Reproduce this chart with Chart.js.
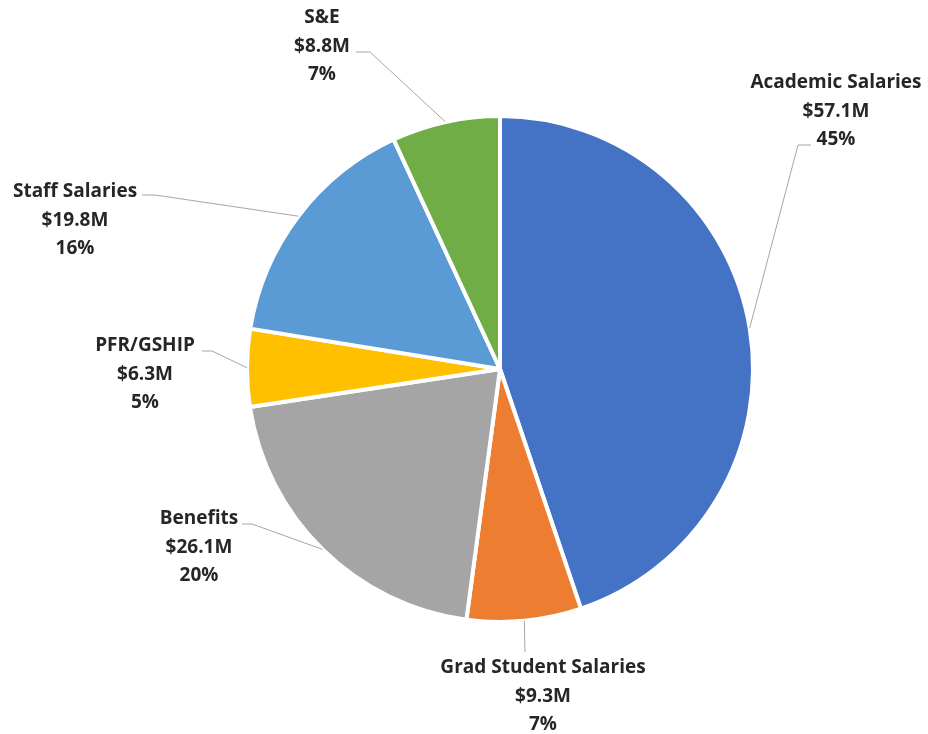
<!DOCTYPE html>
<html>
<head>
<meta charset="utf-8">
<script src="https://cdn.jsdelivr.net/npm/chart.js@4/dist/chart.umd.min.js"></script>
<style>
  html, body { margin: 0; padding: 0; background: #fff; }
  #wrap { width: 928px; height: 734px; }
</style>
</head>
<body>
<div id="wrap"><canvas id="grafico" width="928" height="734"></canvas></div>
<script>
const categorias = ["Academic Salaries", "Grad Student Salaries", "Benefits", "PFR/GSHIP", "Staff Salaries", "S&E"];
const montos = [57.1, 9.3, 26.1, 6.3, 19.8, 8.8];
const colores = ["#4472C4", "#ED7D31", "#A5A5A5", "#FFC000", "#5B9BD5", "#70AD47"];

// where each label sits: text centre x, first line y, leader elbow, leader end
const etiquetas = [
  { x: 836, y: 83, codo: [798, 145], fin: [811, 145] },
  { x: 543, y: 668, codo: [525, 652], fin: [525, 652] },
  { x: 199, y: 519, codo: [252, 524], fin: [242, 524] },
  { x: 145, y: 346, codo: [212, 351], fin: [202, 351] },
  { x: 75, y: 192, codo: [155, 195], fin: [142, 195] },
  { x: 322, y: 18, codo: [370, 52], fin: [356, 52] },
];

const total = montos.reduce((a, b) => a + b, 0);

const pluginEtiquetas = {
  id: "etiquetas",
  afterDatasetsDraw(chart) {
    const ctx = chart.ctx;
    const arcos = chart.getDatasetMeta(0).data;
    ctx.save();
    arcos.forEach((arco, i) => {
      const p = arco.getProps(["x", "y", "startAngle", "endAngle", "outerRadius"], true);
      const medio = (p.startAngle + p.endAngle) / 2;
      const ax = p.x + Math.cos(medio) * p.outerRadius;
      const ay = p.y + Math.sin(medio) * p.outerRadius;
      const e = etiquetas[i];
      ctx.strokeStyle = "#A6A6A6";
      ctx.lineWidth = 1;
      ctx.beginPath();
      ctx.moveTo(ax, ay);
      ctx.lineTo(e.codo[0], e.codo[1]);
      ctx.lineTo(e.fin[0], e.fin[1]);
      ctx.stroke();

      const lineas = [
        categorias[i],
        `$${montos[i].toFixed(1)}M`,
        `${Math.round((montos[i] / total) * 100)}%`,
      ];
      ctx.fillStyle = "#262626";
      ctx.font = "bold 19px 'Open Sans', sans-serif";
      ctx.textAlign = "center";
      ctx.textBaseline = "middle";
      lineas.forEach((t, k) => ctx.fillText(t, e.x, e.y + k * 28.5));
    });
    ctx.restore();
  },
};

const canvas = document.getElementById("grafico");
const miGrafico = new Chart(canvas.getContext("2d"), {
  type: "pie",
  data: {
    labels: categorias,
    datasets: [{
      data: montos,
      backgroundColor: colores,
      borderColor: "#FFFFFF",
      borderWidth: 4,
    }],
  },
  options: {
    responsive: false,
    animation: false,
    layout: { padding: { top: 114, bottom: 110, left: 245, right: 173 } },
    plugins: {
      legend: { display: false },
      tooltip: { enabled: false },
    },
  },
  plugins: [pluginEtiquetas],
});
</script>
</body>
</html>
